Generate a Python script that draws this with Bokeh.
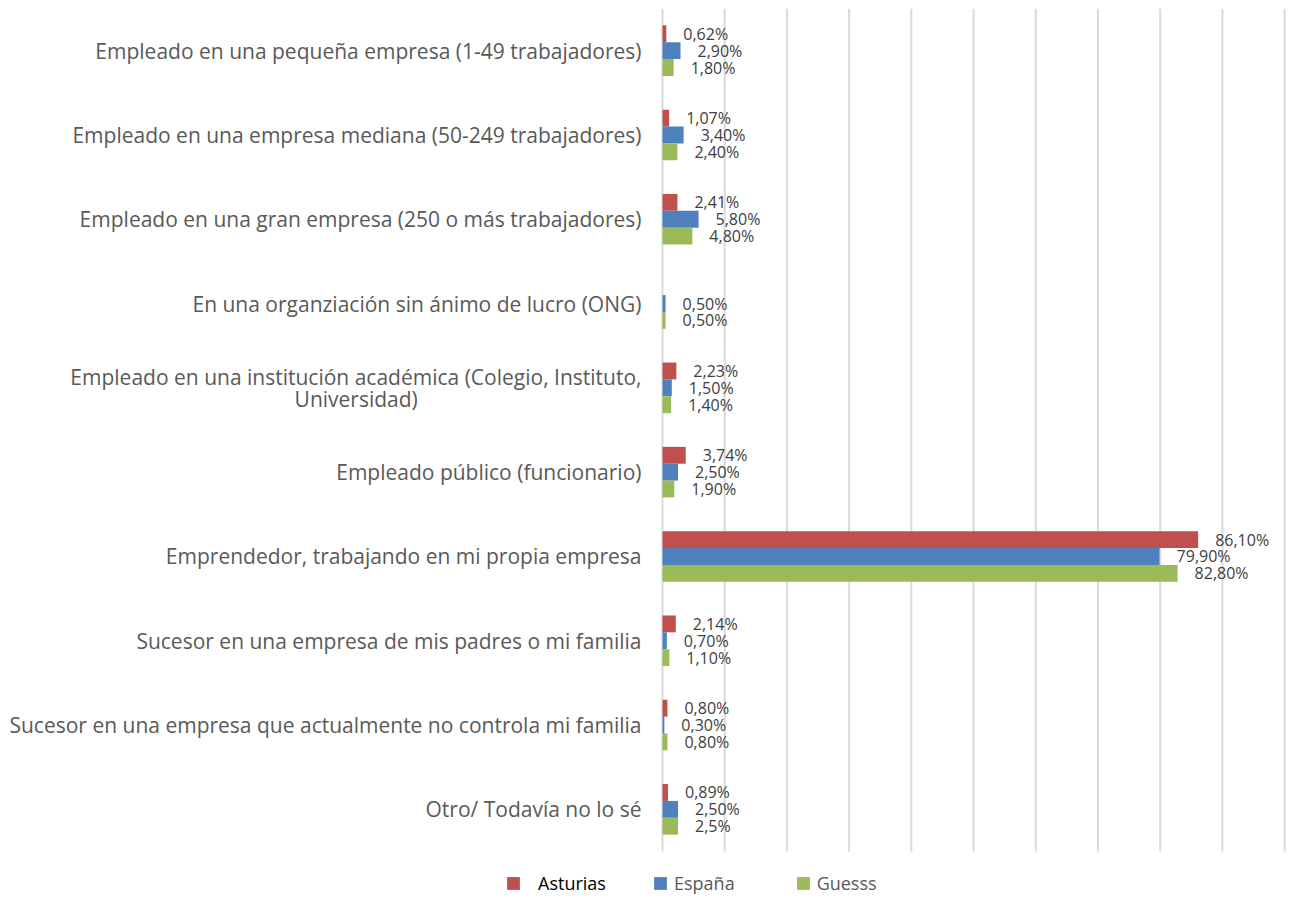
from bokeh.plotting import figure
from bokeh.models import ColumnDataSource, Range1d, Legend, LegendItem
from bokeh.transform import dodge
from bokeh.core.properties import value
from bokeh.embed import file_html
from bokeh.resources import INLINE

NBSP = "\u00a0"

categories = [
    "Empleado en una pequeña empresa (1-49 trabajadores)",
    "Empleado en una empresa mediana (50-249 trabajadores)",
    "Empleado en una gran empresa (250 o más trabajadores)",
    "En una organziación sin ánimo de lucro (ONG)",
    "Empleado en una institución académica (Colegio, Instituto,\nUniversidad)" + NBSP * 41,
    "Empleado público (funcionario)",
    "Emprendedor, trabajando en mi propia empresa",
    "Sucesor en una empresa de mis padres o mi familia",
    "Sucesor en una empresa que actualmente no controla mi familia",
    "Otro/ Todavía no lo sé",
]

asturias = [0.62, 1.07, 2.41, float("nan"), 2.23, 3.74, 86.10, 2.14, 0.80, 0.89]
espana = [2.90, 3.40, 5.80, 0.50, 1.50, 2.50, 79.90, 0.70, 0.30, 2.50]
guesss = [1.80, 2.40, 4.80, 0.50, 1.40, 1.90, 82.80, 1.10, 0.80, 2.50]

asturias_labels = ["0,62%", "1,07%", "2,41%", "", "2,23%", "3,74%", "86,10%", "2,14%", "0,80%", "0,89%"]
espana_labels = ["2,90%", "3,40%", "5,80%", "0,50%", "1,50%", "2,50%", "79,90%", "0,70%", "0,30%", "2,50%"]
guesss_labels = ["1,80%", "2,40%", "4,80%", "0,50%", "1,40%", "1,90%", "82,80%", "1,10%", "0,80%", "2,5%"]

series_names = ["Asturias", "España", "Guesss"]
series_colors = ["#C0504D", "#4F81BD", "#9BBB59"]
x_ticks = [0, 10, 20, 30, 40, 50, 60, 70, 80, 90, 100]

FONT = "Open Sans"
n = len(categories)
ypos = [n - i - 0.5 for i in range(n)]   # first category at the top

p = figure(
    x_range=Range1d(-106.4, 100.3),
    y_range=Range1d(-61 / 84.3, n),
    x_axis_location=None, y_axis_location=None,
    width=1287, height=912,
    min_border_left=0, min_border_right=1, min_border_top=8, min_border_bottom=0,
    output_backend="svg", toolbar_location=None,
)
p.outline_line_color = None
p.background_fill_color = "white"
p.grid.visible = False
p.xgrid.grid_line_color = None
p.ygrid.grid_line_color = None

# vertical gridlines over the category area only
grid_src = ColumnDataSource(dict(x=x_ticks))
p.segment(x0="x", y0=0, x1="x", y1=n, source=grid_src,
          line_color="#d9d9d9", line_width=2)

# category labels
cat_src = ColumnDataSource(dict(y=ypos, cat=categories, x=[0] * n))
p.text(x="x", y="y", text="cat", source=cat_src, x_offset=-21,
       text_align="right", text_baseline="middle", text_font=value(FONT),
       text_font_size="21px", text_color="#595959", text_line_height=0.8)

offsets = [0.2, 0.0, -0.2]
vals = [asturias, espana, guesss]
labs = [asturias_labels, espana_labels, guesss_labels]
items = []
for name, color, off, v, lab in zip(series_names, series_colors, offsets, vals, labs):
    src = ColumnDataSource(dict(y=ypos, val=v, label=lab))
    r = p.hbar(y=dodge("y", off), right="val", left=0, height=0.2,
               source=src, fill_color=color, line_color=None)
    p.text(x="val", y=dodge("y", off), text="label", source=src,
           x_offset=17, text_baseline="middle", text_align="left",
           text_font=value(FONT), text_font_size="16px", text_color="#404040")
    items.append(LegendItem(label=name, renderers=[r]))

common = dict(orientation="horizontal", border_line_color=None, background_fill_alpha=0,
              label_text_font=FONT, label_text_font_size="18px",
              glyph_width=16, glyph_height=16, margin=0, padding=0)
legend1 = Legend(items=items[:1], location=(505, 17), label_text_color="#000000",
                 label_standoff=17, spacing=0, **common)
legend2 = Legend(items=items[1:], location=(652, 17), label_text_color="#595959",
                 label_standoff=6, spacing=60, **common)
p.add_layout(legend1)
p.add_layout(legend2)

open("out.html", "w").write(file_html(p, INLINE))
